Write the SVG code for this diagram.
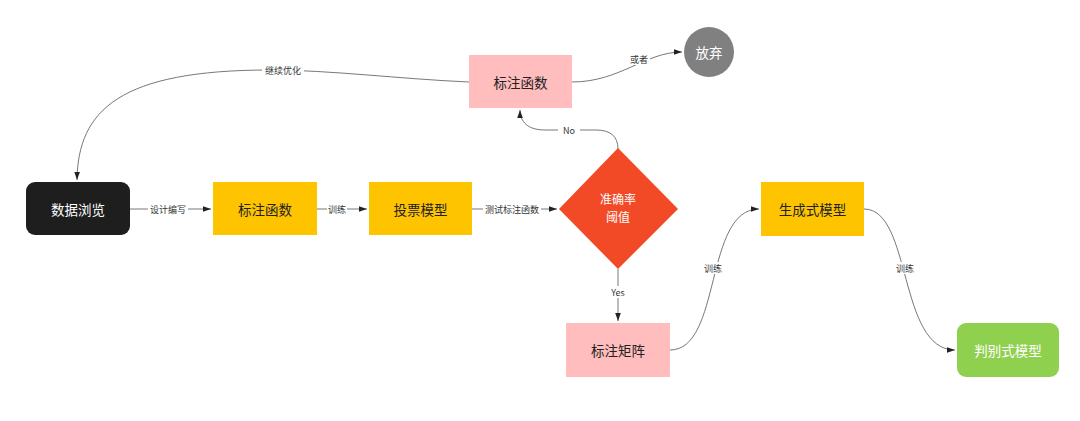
<svg xmlns="http://www.w3.org/2000/svg" width="1080" height="421" viewBox="0 0 1080 421">
<style>
.lbl{font-family:"Noto Sans CJK SC","Liberation Sans",sans-serif;font-size:9px;fill:#333;text-anchor:middle;dominant-baseline:central}
.nt{font-family:"Noto Sans CJK SC","Liberation Sans",sans-serif;font-size:13.5px;text-anchor:middle;dominant-baseline:central}
.dt{font-family:"Noto Sans CJK SC","Liberation Sans",sans-serif;font-size:12px;text-anchor:middle;fill:#fff}
.dark{fill:#222}
.light{fill:#fff}
.edge{fill:none;stroke:#555;stroke-width:0.8}
.bg{fill:#fff}
</style>
<defs>
<marker id="ah" viewBox="0 0 10 10" refX="10" refY="5" markerWidth="8" markerHeight="8" markerUnits="userSpaceOnUse" orient="auto">
<path d="M0,1.5 L10,5 L0,8.5 z" fill="#222"/>
</marker>
</defs>
<rect width="1080" height="421" fill="#fff"/>
<g id="connectors">
<path class="edge" d="M129,209 L211,209" marker-end="url(#ah)"/>
<path class="edge" d="M317,209 L367,209" marker-end="url(#ah)"/>
<path class="edge" d="M472,209 L557,209" marker-end="url(#ah)"/>
<path class="edge" d="M618,269 L618,321" marker-end="url(#ah)"/>
<path class="edge" d="M618,149 C618,136 610,130 596,130 L545,130 C528,130 520,122 520,110" marker-end="url(#ah)"/>
<path class="edge" d="M469,82 C400,79 330,70 270,70 C120,70 78,110 77,180" marker-end="url(#ah)"/>
<path class="edge" d="M572,82 C620,82 645,52 682,52" marker-end="url(#ah)"/>
<path class="edge" d="M670,350 C722,350 704,209 759,209" marker-end="url(#ah)"/>
<path class="edge" d="M864,209 C912,209 898,350 955,350" marker-end="url(#ah)"/>
<rect class="bg" x="148" y="203" width="40" height="12"/>
<text class="lbl" x="168" y="209">设计编写</text>
<rect class="bg" x="327" y="203" width="20" height="12"/>
<text class="lbl" x="337" y="209">训练</text>
<rect class="bg" x="483" y="203" width="58" height="12"/>
<text class="lbl" x="512" y="209">测试标注函数</text>
<rect class="bg" x="607" y="286" width="22" height="12"/>
<text class="lbl" x="618" y="292">Yes</text>
<rect class="bg" x="558" y="124" width="22" height="12"/>
<text class="lbl" x="569" y="130">No</text>
<rect class="bg" x="262" y="64" width="42" height="12"/>
<text class="lbl" x="283" y="70">继续优化</text>
<rect class="bg" x="628" y="53" width="22" height="12"/>
<text class="lbl" x="639" y="59">或者</text>
<rect class="bg" x="702" y="262" width="22" height="12"/>
<text class="lbl" x="713" y="268">训练</text>
<rect class="bg" x="894" y="262" width="22" height="12"/>
<text class="lbl" x="905" y="268">训练</text>
</g>
<g id="n_browse">
<rect x="26" y="182" width="104" height="53" rx="9" fill="#1e1e1e"/>
<text class="nt light" x="78" y="209">数据浏览</text>
</g>
<g id="n_lf">
<rect x="213" y="182" width="104" height="53" fill="#FFC400"/>
<text class="nt dark" x="265" y="209">标注函数</text>
</g>
<g id="n_vote">
<rect x="369" y="182" width="103" height="53" fill="#FFC400"/>
<text class="nt dark" x="420.5" y="209">投票模型</text>
</g>
<g id="n_decision">
<polygon points="618,148 678,209 618,269 559,209" fill="#F24A26"/>
<text class="dt" x="618" y="204">准确率<tspan x="618" dy="17.5">阈值</tspan></text>
</g>
<g id="n_lf_top">
<rect x="469" y="55" width="103" height="53" fill="#FFBDBD"/>
<text class="nt dark" x="520.5" y="81.5">标注函数</text>
</g>
<g id="n_abandon">
<circle cx="709" cy="52" r="25" fill="#808080"/>
<text class="nt light" x="709" y="52">放弃</text>
</g>
<g id="n_matrix">
<rect x="566" y="323" width="104" height="54" fill="#FFBDBD"/>
<text class="nt dark" x="618" y="350">标注矩阵</text>
</g>
<g id="n_gen">
<rect x="761" y="182" width="103" height="54" fill="#FFC400"/>
<text class="nt dark" x="812.5" y="209">生成式模型</text>
</g>
<g id="n_disc">
<rect x="957" y="323" width="102" height="54" rx="9" fill="#8FD14F"/>
<text class="nt light" x="1008" y="350">判别式模型</text>
</g>
</svg>
